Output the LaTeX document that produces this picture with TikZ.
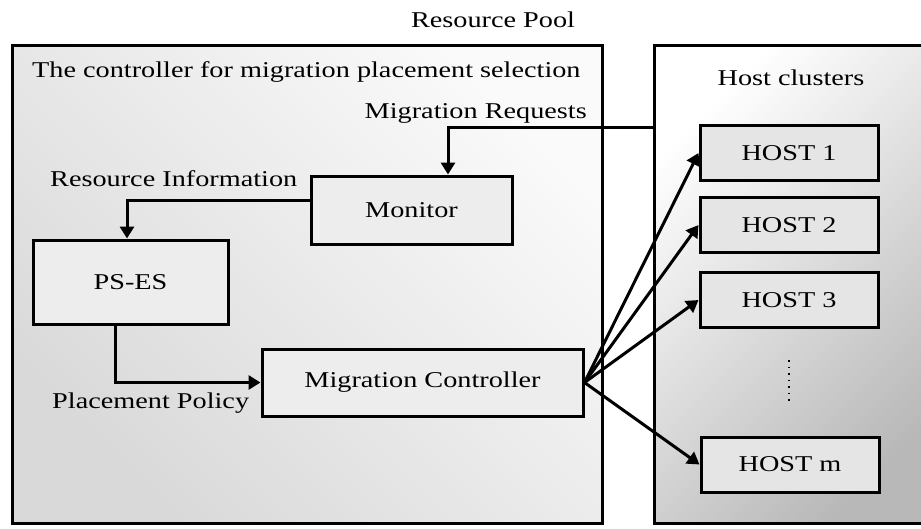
\documentclass[tikz,border=0pt]{standalone}
\usepackage{fontspec}
\setmainfont{Liberation Serif}[FakeStretch=1.25]
\usepackage{tikz}
\usetikzlibrary{arrows.meta}

\begin{document}
\begin{tikzpicture}[x=1pt,y=-1pt,
		every node/.style={font=\fontsize{22.6}{27}\selectfont},
		frame/.style={draw,line width=3pt,minimum height=478pt},
		box/.style={draw,line width=3pt,fill=black!7},
		host/.style={box,fill=black!10,minimum width=178pt,minimum height=55pt},
		tag/.style={inner sep=0pt},
		arr/.style={line width=3pt,-{Triangle[length=12pt,width=14pt]}}]
		\useasboundingbox (0,0) rectangle (921,528);
		\clip (0,0) rectangle (921,528);
		
		\node[tag,anchor=base] (title) at (493,27) {Resource Pool};
		\node[frame,minimum width=590pt,top color=black!2,bottom color=black!15,shading angle=-45] (pool) at (307,284) {};
		\node[frame,minimum width=290pt,top color=white,bottom color=black!28,shading angle=45] (clusters) at (799,284) {};
		
		\node[tag,anchor=base west] (ctrltext) at (32,77) {The controller for migration placement selection};
		\node[tag,anchor=base] (hosttext) at (791,85) {Host clusters};
		\node[tag,anchor=base east] (reqtext) at (587,118) {Migration Requests};
		\node[tag,anchor=base west] (infotext) at (50,186) {Resource Information};
		\node[tag,anchor=base west] (policytext) at (52,408) {Placement Policy};
		
		\node[box,minimum width=201pt,minimum height=68pt] (monitor) at (411.5,210) {Monitor};
		\node[box,minimum width=195pt,minimum height=84pt] (pses) at (130.5,282) {PS-ES};
		\node[box,minimum width=321pt,minimum height=67pt] (mc) at (422.5,382.5) {Migration Controller};
		
		\node[host] (h1) at (789,153) {HOST 1};
		\node[host] (h2) at (789,225) {HOST 2};
		\node[host] (h3) at (789,300) {HOST 3};
		\node[host] (hm) at (790,464.5) {HOST m};
		\draw[line width=1.5pt,dash pattern=on 1.5pt off 5pt] (789,360) -- (789,402);
		
		\coordinate (req) at (448,127);
		\draw[arr] (clusters.west |- req) -- (req) -- (req |- monitor.north);
		\draw[arr] ([yshift=10pt]monitor.west) -| ([xshift=-3.5pt]pses.north);
		\draw[arr] ([xshift=-15.5pt]pses.south) |- (mc.west);
		\foreach \h in {h1,h2,h3,hm}
		\draw[arr] (mc.east) -- (\h.west);
	\end{tikzpicture}
\end{document}
